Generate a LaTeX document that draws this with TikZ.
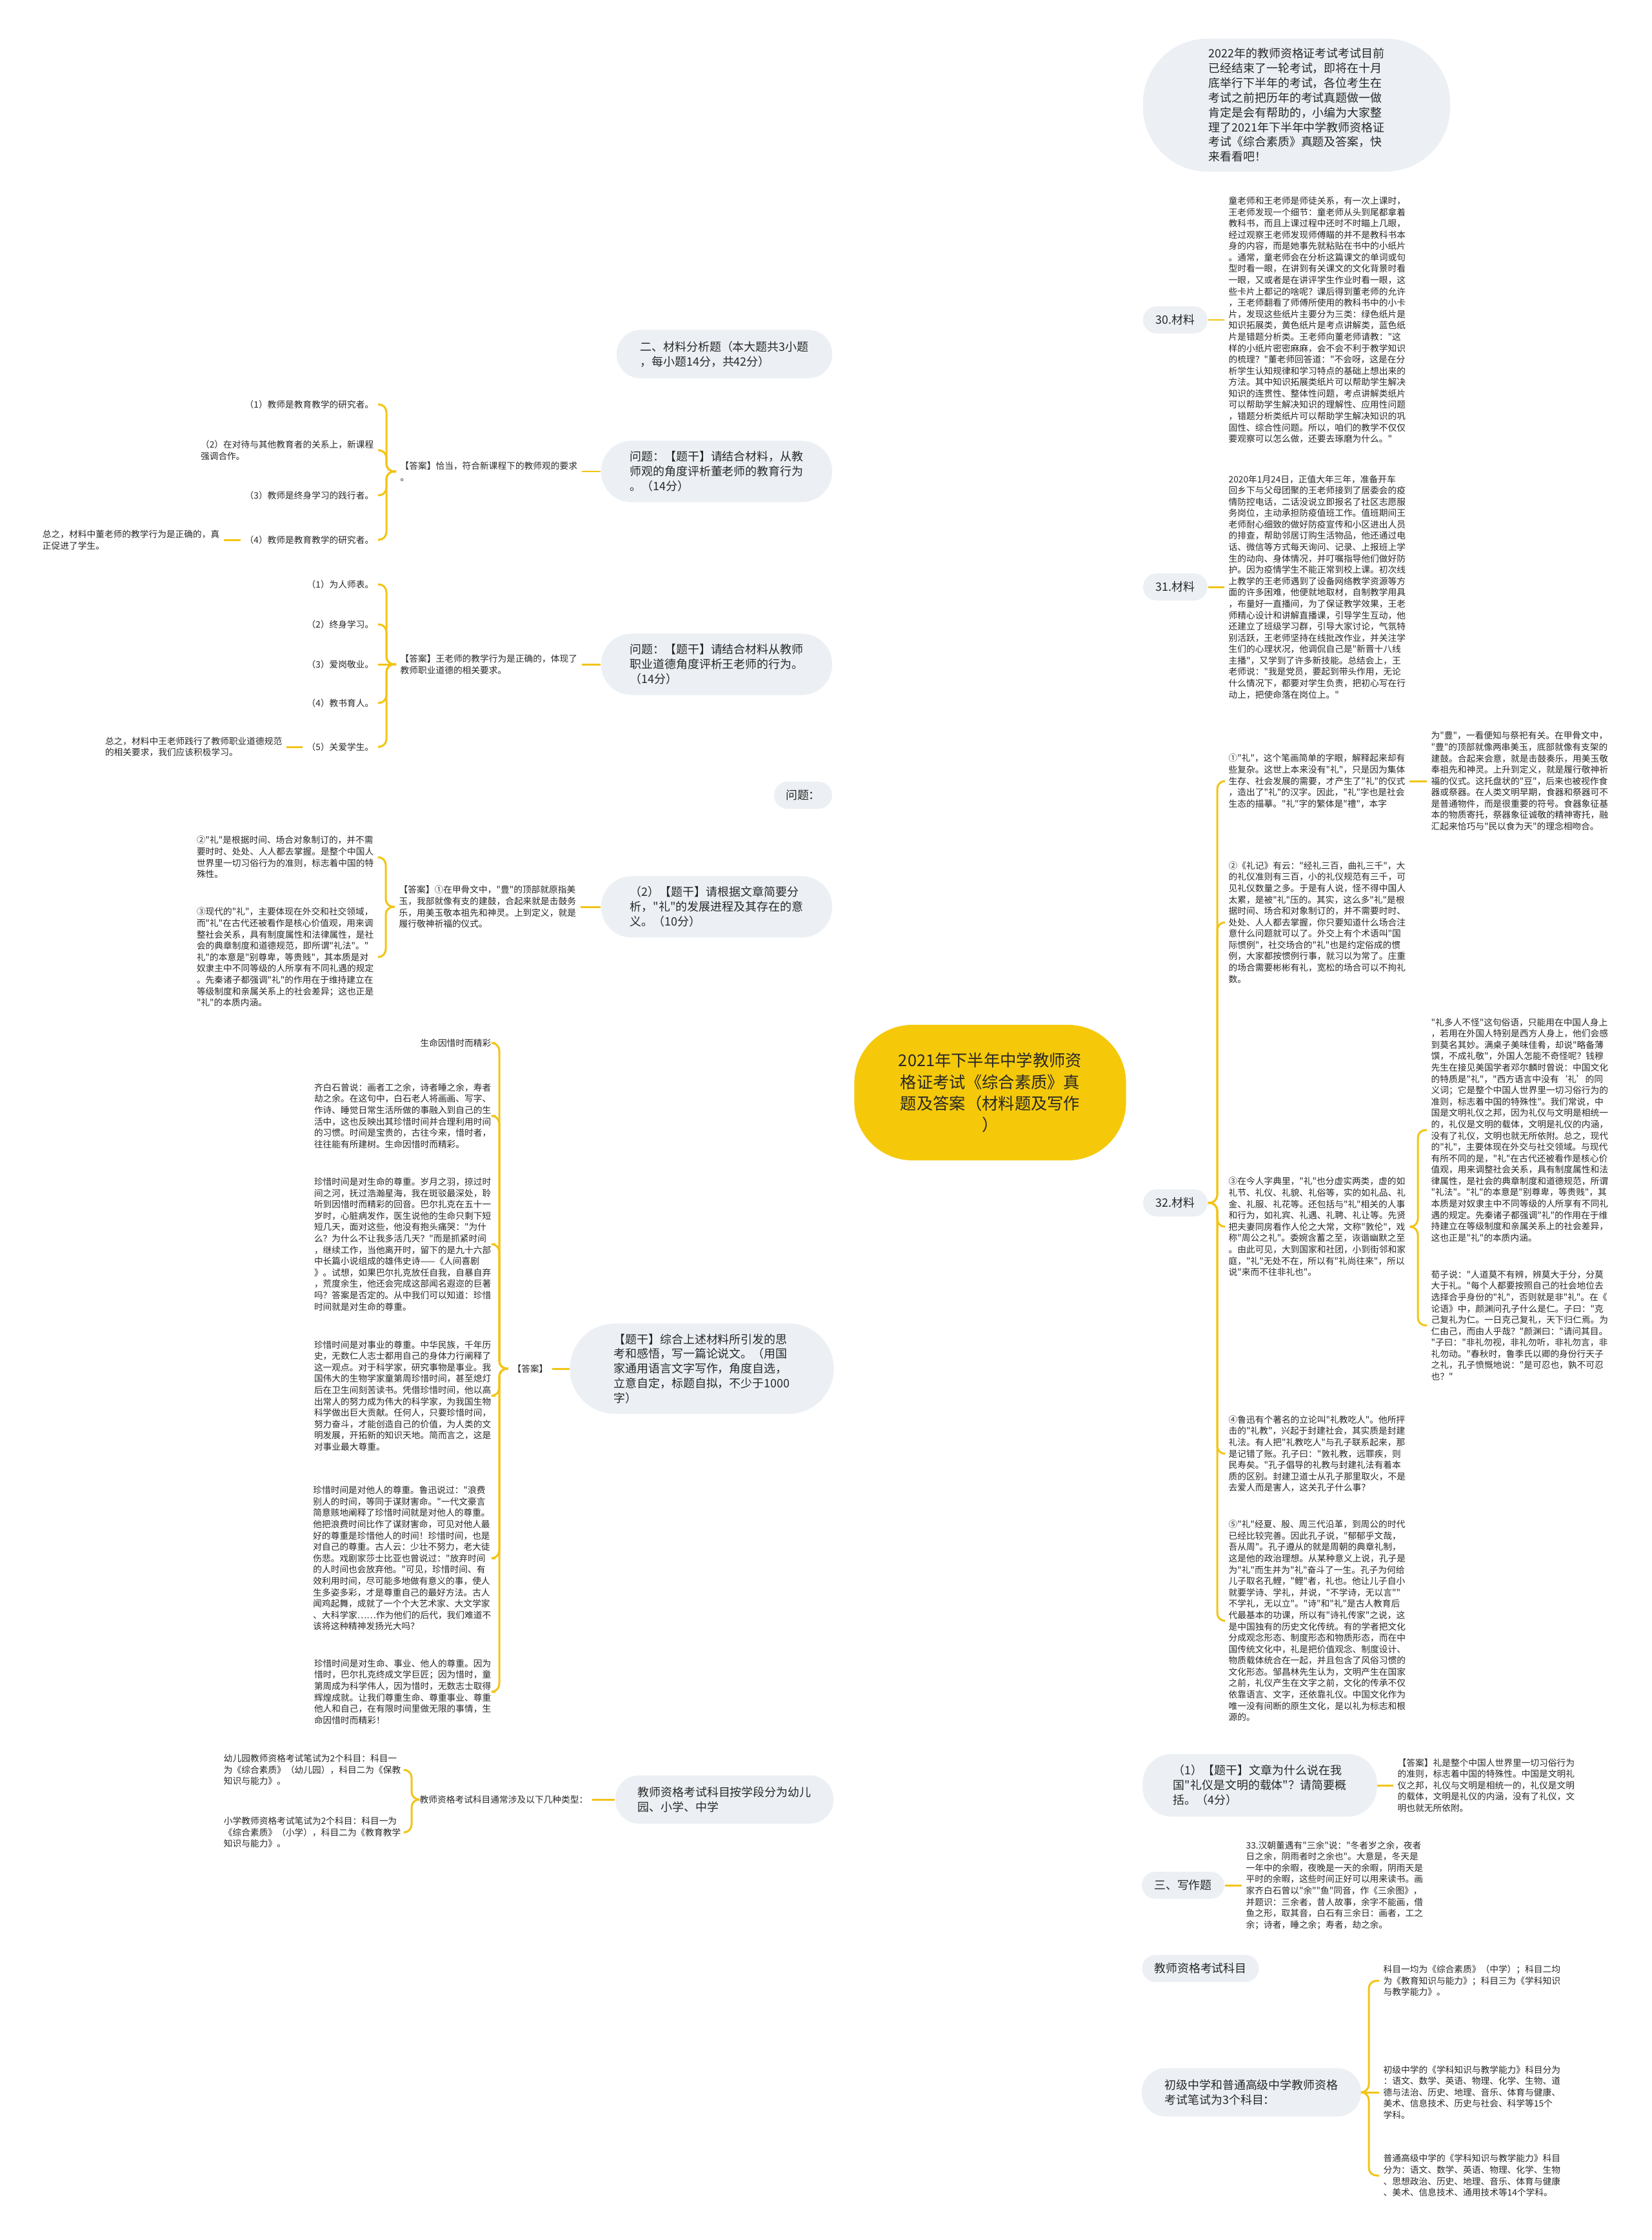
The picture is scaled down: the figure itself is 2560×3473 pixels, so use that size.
\documentclass[tikz,border=0pt]{standalone}
\usepackage{fontspec}
\setmainfont{Noto Sans CJK SC}[Ligatures=TeXOff]
\usetikzlibrary{backgrounds}
\definecolor{linegold}{RGB}{242,196,22}
\definecolor{hubgold}{RGB}{245,201,10}
\definecolor{topicgray}{RGB}{236,240,244}
\definecolor{ink}{RGB}{40,40,40}
\newcommand{\fshub}{\fontsize{7.2pt}{9.4pt}\selectfont}
\newcommand{\fstopic}{\fontsize{5.1pt}{6.5pt}\selectfont}
\newcommand{\fsleaf}{\fontsize{3.9pt}{5.0pt}\selectfont}

\begin{document}
\begin{tikzpicture}[x=0.01cm, y=-0.01cm]
\tikzstyle{hub} = [fill=hubgold, rounded corners=0.9cm, minimum width=4.21cm, minimum height=2.1cm, align=center, font=\fshub, text=ink]
\tikzstyle{topic} = [fill=topicgray, align=left, font=\fstopic, text=ink]
\tikzstyle{tag} = [topic, rounded corners=0.21cm, minimum height=0.42cm]
\tikzstyle{leaf} = [align=left, font=\fsleaf, text=ink, inner xsep=0.06cm, inner ysep=0.02cm]
\tikzstyle{trunk} = [draw=linegold, line width=1.3pt]
\tikzstyle{flow} = [draw=linegold, line width=0.85pt, rounded corners=0.12cm]

\useasboundingbox [fill=white] (0,0) rectangle (2560,3473);

% Centre
\node [hub] (main) at (1535,1694) {2021年下半年中学教师资\\格证考试《综合素质》真\\题及答案（材料题及写作\\）};
\coordinate (mainR) at (1580,1694);
\coordinate (mainL) at (1510,1694);

% Right side
\node [topic, rounded corners=1cm, minimum width=4.76cm, minimum height=2.06cm] (intro) at (2010,163) {2022年的教师资格证考试考试目前\\已经结束了一轮考试，即将在十月\\底举行下半年的考试，各位考生在\\考试之前把历年的考试真题做一做\\肯定是会有帮助的，小编为大家整\\理了2021年下半年中学教师资格证\\考试《综合素质》真题及答案，快\\来看看吧！};

\node [tag, minimum width=1cm] (lbl30) at (1822,496) {30.材料};
\node [leaf, anchor=west] (txt30) at (1898,496) {童老师和王老师是师徒关系，有一次上课时，\\王老师发现一个细节：童老师从头到尾都拿着\\教科书，而且上课过程中还时不时瞄上几眼，\\经过观察王老师发现师傅瞄的并不是教科书本\\身的内容，而是她事先就粘贴在书中的小纸片\\。通常，童老师会在分析这篇课文的单词或句\\型时看一眼，在讲到有关课文的文化背景时看\\一眼，又或者是在讲评学生作业时看一眼，这\\些卡片上都记的啥呢？课后得到董老师的允许\\，王老师翻看了师傅所使用的教科书中的小卡\\片，发现这些纸片主要分为三类：绿色纸片是\\知识拓展类，黄色纸片是考点讲解类，蓝色纸\\片是错题分析类。王老师向董老师请教："这\\样的小纸片密密麻麻，会不会不利于教学知识\\的梳理？"董老师回答道："不会呀，这是在分\\析学生认知规律和学习特点的基础上想出来的\\方法。其中知识拓展类纸片可以帮助学生解决\\知识的连贯性、整体性问题，考点讲解类纸片\\可以帮助学生解决知识的理解性、应用性问题\\，错题分析类纸片可以帮助学生解决知识的巩\\固性、综合性问题。所以，咱们的教学不仅仅\\要观察可以怎么做，还要去琢磨为什么。"};

\node [tag, minimum width=1cm] (lbl31) at (1822,910) {31.材料};
\node [leaf, anchor=west] (txt31) at (1898,910) {2020年1月24日，正值大年三年，准备开车\\回乡下与父母团聚的王老师接到了居委会的疫\\情防控电话，二话没说立即报名了社区志愿服\\务岗位，主动承担防疫值班工作。值班期间王\\老师耐心细致的做好防疫宣传和小区进出人员\\的排查，帮助邻居订购生活物品，他还通过电\\话、微信等方式每天询问、记录、上报班上学\\生的动向、身体情况，并叮嘱指导他们做好防\\护。因为疫情学生不能正常到校上课。初次线\\上教学的王老师遇到了设备网络教学资源等方\\面的许多困难，他便就地取材，自制教学用具\\，布量好一直播间，为了保证教学效果，王老\\师精心设计和讲解直播课，引导学生互动，他\\还建立了班级学习群，引导大家讨论，气氛特\\别活跃，王老师坚持在线批改作业，并关注学\\生们的心理状况，他调侃自己是"新晋十八线\\主播"，又学到了许多新技能。总结会上，王\\老师说："我是党员，要起到带头作用，无论\\什么情况下，都要对学生负责，把初心写在行\\动上，把使命落在岗位上。"};

\node [tag, minimum width=1cm] (lbl32) at (1822,1865) {32.材料};
\coordinate (j32) at (1887,1865);
\node [leaf, anchor=west] (r1) at (1898,1211) {①"礼"，这个笔画简单的字眼，解释起来却有\\些复杂。这世上本来没有"礼"，只是因为集体\\生存、社会发展的需要，才产生了"礼"的仪式\\，造出了"礼"的汉字。因此，"礼"字也是社会\\生态的描摹。"礼"字的繁体是"禮"，本字};
\node [leaf, anchor=west] (r1b) at (2212,1211) {为"豊"，一看便知与祭祀有关。在甲骨文中，\\"豊"的顶部就像两串美玉，底部就像有支架的\\建鼓。合起来会意，就是击鼓奏乐，用美玉敬\\奉祖先和神灵。上升到定义，就是履行敬神祈\\福的仪式。这托盘状的"豆"，后来也被视作食\\器或祭器。在人类文明早期，食器和祭器可不\\是普通物件，而是很重要的符号。食器象征基\\本的物质寄托，祭器象征诚敬的精神寄托，融\\汇起来恰巧与"民以食为天"的理念相吻合。};
\node [leaf, anchor=west] (r2) at (1898,1430) {②《礼记》有云："经礼三百，曲礼三千"，大\\的礼仪准则有三百，小的礼仪规范有三千，可\\见礼仪数量之多。于是有人说，怪不得中国人\\太累，是被"礼"压的。其实，这么多"礼"是根\\据时间、场合和对象制订的，并不需要时时、\\处处、人人都去掌握，你只要知道什么场合注\\意什么问题就可以了。外交上有个术语叫"国\\际惯例"，社交场合的"礼"也是约定俗成的惯\\例，大家都按惯例行事，就习以为常了。庄重\\的场合需要彬彬有礼，宽松的场合可以不拘礼\\数。};
\node [leaf, anchor=west] (r3) at (1898,1902) {③在今人字典里，"礼"也分虚实两类，虚的如\\礼节、礼仪、礼貌、礼俗等，实的如礼品、礼\\金、礼服、礼花等。还包括与"礼"相关的人事\\和行为，如礼宾、礼遇、礼聘、礼让等。先贤\\把夫妻同房看作人伦之大常，文称"敦伦"，戏\\称"周公之礼"。委婉含蓄之至，诙谐幽默之至\\。由此可见，大到国家和社团，小到街邻和家\\庭，"礼"无处不在，所以有"礼尚往来"，所以\\说"来而不往非礼也"。};
\coordinate (j3) at (2198,1902);
\node [leaf, anchor=west] (r3a) at (2212,1752) {"礼多人不怪"这句俗语，只能用在中国人身上\\，若用在外国人特别是西方人身上，他们会感\\到莫名其妙。满桌子美味佳肴，却说"略备薄\\馔，不成礼敬"，外国人怎能不奇怪呢？钱穆\\先生在接见美国学者邓尔麟时曾说：中国文化\\的特质是"礼"，"西方语言中没有‘礼’的同\\义词；它是整个中国人世界里一切习俗行为的\\准则，标志着中国的特殊性"。我们常说，中\\国是文明礼仪之邦，因为礼仪与文明是相统一\\的，礼仪是文明的载体，文明是礼仪的内涵，\\没有了礼仪，文明也就无所依附。总之，现代\\的"礼"，主要体现在外交与社交领域。与现代\\有所不同的是，"礼"在古代还被看作是核心价\\值观，用来调整社会关系，具有制度属性和法\\律属性，是社会的典章制度和道德规范，所谓\\"礼法"。"礼"的本意是"别尊卑，等贵贱"，其\\本质是对奴隶主中不同等级的人所享有不同礼\\遇的规定。先秦诸子都强调"礼"的作用在于维\\持建立在等级制度和亲属关系上的社会差异，\\这也正是"礼"的本质内涵。};
\node [leaf, anchor=west] (r3b) at (2212,2055) {荀子说："人道莫不有辨，辨莫大于分，分莫\\大于礼。"每个人都要按照自己的社会地位去\\选择合乎身份的"礼"，否则就是非"礼"。在《\\论语》中，颜渊问孔子什么是仁。子曰："克\\己复礼为仁。一日克己复礼，天下归仁焉。为\\仁由己，而由人乎哉？"颜渊曰："请问其目。\\"子曰："非礼勿视，非礼勿听，非礼勿言，非\\礼勿动。"春秋时，鲁季氏以卿的身份行天子\\之礼，孔子愤慨地说："是可忍也，孰不可忍\\也？"};
\node [leaf, anchor=west] (r4) at (1898,2254) {④鲁迅有个著名的立论叫"礼教吃人"。他所抨\\击的"礼教"，兴起于封建社会，其实质是封建\\礼法。有人把"礼教吃人"与孔子联系起来，那\\是记错了账。孔子曰："敦礼教，远罪疾，则\\民寿矣。"孔子倡导的礼教与封建礼法有着本\\质的区别。封建卫道士从孔子那里取火，不是\\去爱人而是害人，这关孔子什么事？};
\node [leaf, anchor=west] (r5) at (1898,2513) {⑤"礼"经夏、殷、周三代沿革，到周公的时代\\已经比较完善。因此孔子说，"郁郁乎文哉，\\吾从周"。孔子遵从的就是周朝的典章礼制，\\这是他的政治理想。从某种意义上说，孔子是\\为"礼"而生并为"礼"奋斗了一生。孔子为何给\\儿子取名孔鲤，"鲤"者，礼也。他让儿子自小\\就要学诗、学礼，并说，"不学诗，无以言""\\不学礼，无以立"。"诗"和"礼"是古人教育后\\代最基本的功课，所以有"诗礼传家"之说，这\\是中国独有的历史文化传统。有的学者把文化\\分成观念形态、制度形态和物质形态，而在中\\国传统文化中，礼是把价值观念、制度设计、\\物质载体统合在一起，并且包含了风俗习惯的\\文化形态。邹昌林先生认为，文明产生在国家\\之前，礼仪产生在文字之前，文化的传承不仅\\依靠语言、文字，还依靠礼仪。中国文化作为\\唯一没有间断的原生文化，是以礼为标志和根\\源的。};

\node [topic, rounded corners=0.45cm, minimum width=3.63cm, minimum height=0.97cm] (qa1) at (1953,2768) {（1）【题干】文章为什么说在我\\国"礼仪是文明的载体"？请简要概\\括。（4分）};
\node [leaf, anchor=west] (ans1) at (2160,2768) {【答案】礼是整个中国人世界里一切习俗行为\\的准则，标志着中国的特殊性。中国是文明礼\\仪之邦，礼仪与文明是相统一的，礼仪是文明\\的载体，文明是礼仪的内涵，没有了礼仪，文\\明也就无所依附。};

\node [tag, minimum width=1.28cm] (lbl33) at (1834,2923) {三、写作题};
\node [leaf, anchor=west] (txt33) at (1925,2923) {33.汉朝董遇有"三余"说："冬者岁之余，夜者\\日之余，阴雨者时之余也"。大意是，冬天是\\一年中的余暇，夜晚是一天的余暇，阴雨天是\\平时的余暇，这些时间正好可以用来读书。画\\家齐白石曾以"余""鱼"同音，作《三余图》，\\并题识：三余者，昔人故事，余字不能画，借\\鱼之形，取其音，白石有三余日：画者，工之\\余；诗者，睡之余；寿者，劫之余。};

\node [tag, minimum width=1.81cm] (subj) at (1861,3052) {教师资格考试科目};

\node [topic, rounded corners=0.37cm, minimum width=3.4cm, minimum height=0.75cm] (mid) at (1940,3244) {初级中学和普通高级中学教师资格\\考试笔试为3个科目：};
\coordinate (jm) at (2122,3244);
\node [leaf, anchor=west] (m1) at (2138,3071) {科目一均为《综合素质》（中学）；科目二均\\为《教育知识与能力》；科目三为《学科知识\\与教学能力》。};
\node [leaf, anchor=west] (m2) at (2138,3244) {初级中学的《学科知识与教学能力》科目分为\\：语文、数学、英语、物理、化学、生物、道\\德与法治、历史、地理、音乐、体育与健康、\\美术、信息技术、历史与社会、科学等15个\\学科。};
\node [leaf, anchor=west] (m3) at (2138,3373) {普通高级中学的《学科知识与教学能力》科目\\分为：语文、数学、英语、物理、化学、生物\\、思想政治、历史、地理、音乐、体育与健康\\、美术、信息技术、通用技术等14个学科。};

% Left side
\node [topic, rounded corners=0.37cm, minimum width=3.34cm, minimum height=0.75cm] (sec2) at (1123,549) {二、材料分析题（本大题共3小题\\，每小题14分，共42分）};

\node [topic, rounded corners=0.47cm, minimum width=3.58cm, minimum height=0.95cm] (q1) at (1111,731) {问题：【题干】请结合材料，从教\\师观的角度评析董老师的教育行为\\。（14分）};
\node [leaf, anchor=west] (a1) at (614,731) {【答案】恰当，符合新课程下的教师观的要求\\。};
\coordinate (ja1) at (599,731);
\node [leaf, anchor=east] (c11) at (586,627) {（1）教师是教育教学的研究者。};
\node [leaf, anchor=east] (c12) at (586,698) {（2）在对待与其他教育者的关系上，新课程\\强调合作。};
\node [leaf, anchor=east] (c13) at (586,768) {（3）教师是终身学习的践行者。};
\node [leaf, anchor=east] (c14) at (586,837) {（4）教师是教育教学的研究者。};
\node [leaf, anchor=east] (s1) at (347,837) {总之，材料中董老师的教学行为是正确的，真\\正促进了学生。};

\node [topic, rounded corners=0.47cm, minimum width=3.58cm, minimum height=0.95cm] (q2) at (1111,1030) {问题：【题干】请结合材料从教师\\职业道德角度评析王老师的行为。\\（14分）};
\node [leaf, anchor=west] (a2) at (614,1030) {【答案】王老师的教学行为是正确的，体现了\\教师职业道德的相关要求。};
\coordinate (ja2) at (599,1030);
\node [leaf, anchor=east] (c21) at (586,906) {（1）为人师表。};
\node [leaf, anchor=east] (c22) at (586,968) {（2）终身学习。};
\node [leaf, anchor=east] (c23) at (586,1030) {（3）爱岗敬业。};
\node [leaf, anchor=east] (c24) at (586,1090) {（4）教书育人。};
\node [leaf, anchor=east] (c25) at (586,1158) {（5）关爱学生。};
\node [leaf, anchor=east] (s2) at (444,1158) {总之，材料中王老师践行了教师职业道德规范\\的相关要求，我们应该积极学习。};

\node [tag, minimum width=0.9cm] (q3) at (1245,1233) {问题：};

\node [topic, rounded corners=0.47cm, minimum width=3.58cm, minimum height=0.95cm] (q4) at (1111,1406) {（2）【题干】请根据文章简要分\\析，"礼"的发展进程及其存在的意\\义。（10分）};
\node [leaf, anchor=west] (a4) at (612,1406) {【答案】①在甲骨文中，"豊"的顶部就原指美\\玉，我部就像有支的建鼓，合起来就是击鼓务\\乐，用美玉敬本祖先和神灵。上到定义，就是\\履行敬神祈福的仪式。};
\coordinate (ja4) at (598,1406);
\node [leaf, anchor=east] (c41) at (586,1329) {②"礼"是根据时间、场合对象制订的，并不需\\要时时、处处、人人都去掌握。是整个中国人\\世界里一切习俗行为的准则，标志着中国的特\\殊性。};
\node [leaf, anchor=east] (c42) at (586,1484) {③现代的"礼"，主要体现在外交和社交领域，\\而"礼"在古代还被看作是核心价值观，用来调\\整社会关系，具有制度属性和法律属性，是社\\会的典章制度和道德规范，即所谓"礼法"。"\\礼"的本意是"别尊卑，等贵贱"，其本质是对\\奴隶主中不同等级的人所享有不同礼遇的规定\\。先秦诸子都强调"礼"的作用在于维持建立在\\等级制度和亲属关系上的社会差异；这也正是\\"礼"的本质内涵。};

\node [topic, rounded corners=0.7cm, minimum width=4.09cm, minimum height=1.4cm] (write) at (1088,2122) {【题干】综合上述材料所引发的思\\考和感悟，写一篇论说文。（用国\\家通用语言文字写作，角度自选，\\立意自定，标题自拟，不少于1000\\字）};
\node [leaf] (ans5) at (822,2122) {【答案】};
\coordinate (j5) at (774,2122);
\node [leaf, anchor=east] (w0) at (768,1617) {生命因惜时而精彩};
\node [leaf, anchor=east] (w1) at (768,1730) {齐白石曾说：画者工之余，诗者睡之余，寿者\\劫之余。在这句中，白石老人将画画、写字、\\作诗、睡觉日常生活所做的事融入到自己的生\\活中，这也反映出其珍惜时间并合理利用时间\\的习惯。时间是宝贵的，古往今来，惜时者，\\往往能有所建树。生命因惜时而精彩。};
\node [leaf, anchor=east] (w2) at (768,1929) {珍惜时间是对生命的尊重。岁月之羽，掠过时\\间之河，抚过浩瀚星海，我在斑驳最深处，聆\\听到因惜时而精彩的回音。巴尔扎克在五十一\\岁时，心脏病发作，医生说他的生命只剩下短\\短几天，面对这些，他没有抱头痛哭："为什\\么？为什么不让我多活几天？"而是抓紧时间\\，继续工作，当他离开时，留下的是九十六部\\中长篇小说组成的雄伟史诗——《人间喜剧\\》。试想，如果巴尔扎克放任自我，自暴自弃\\，荒度余生，他还会完成这部闻名遐迩的巨著\\吗？答案是否定的。从中我们可以知道：珍惜\\时间就是对生命的尊重。};
\node [leaf, anchor=east] (w3) at (768,2164) {珍惜时间是对事业的尊重。中华民族，千年历\\史，无数仁人志士都用自己的身体力行阐释了\\这一观点。对于科学家，研究事物是事业。我\\国伟大的生物学家童第周珍惜时间，甚至熄灯\\后在卫生间刻苦读书。凭借珍惜时间，他以高\\出常人的努力成为伟大的科学家，为我国生物\\科学做出巨大贡献。任何人，只要珍惜时间，\\努力奋斗，才能创造自己的价值，为人类的文\\明发展，开拓新的知识天地。简而言之，这是\\对事业最大尊重。};
\node [leaf, anchor=east] (w4) at (768,2416) {珍惜时间是对他人的尊重。鲁迅说过："浪费\\别人的时间，等同于谋财害命。"一代文豪言\\简意赅地阐释了珍惜时间就是对他人的尊重。\\他把浪费时间比作了谋财害命，可见对他人最\\好的尊重是珍惜他人的时间！珍惜时间，也是\\对自己的尊重。古人云：少壮不努力，老大徒\\伤悲。戏剧家莎士比亚也曾说过："放弃时间\\的人时间也会放弃他。"可见，珍惜时间、有\\效利用时间，尽可能多地做有意义的事，使人\\生多姿多彩，才是尊重自己的最好方法。古人\\闻鸡起舞，成就了一个个大艺术家、大文学家\\、大科学家……作为他们的后代，我们难道不\\该将这种精神发扬光大吗？};
\node [leaf, anchor=east] (w5) at (768,2623) {珍惜时间是对生命、事业、他人的尊重。因为\\惜时，巴尔扎克终成文学巨匠；因为惜时，童\\第周成为科学伟人，因为惜时，无数志士取得\\辉煌成就。让我们尊重生命、尊重事业、尊重\\他人和自己，在有限时间里做无限的事情，生\\命因惜时而精彩！};

\node [topic, rounded corners=0.37cm, minimum width=3.38cm, minimum height=0.75cm] (stage) at (1123,2790) {教师资格考试科目按学段分为幼儿\\园、小学、中学};
\node [leaf, anchor=east] (slab) at (918,2790) {教师资格考试科目通常涉及以下几种类型：};
\coordinate (j6) at (638,2790);
\node [leaf, anchor=east] (k1) at (628,2744) {幼儿园教师资格考试笔试为2个科目：科目一\\为《综合素质》（幼儿园），科目二为《保教\\知识与能力》。};
\node [leaf, anchor=east] (k2) at (628,2841) {小学教师资格考试笔试为2个科目：科目一为\\《综合素质》（小学），科目二为《教育教学\\知识与能力》。};

% Connectors
\begin{scope}[on background layer]
\foreach \n in {intro,lbl30,lbl31,lbl32,qa1,lbl33,subj,mid}
  \draw [trunk] (mainR) .. controls (mainR |- \n.west) .. (\n.west);
\foreach \n in {sec2,q1,q2,q3,q4,write,stage}
  \draw [trunk] (mainL) .. controls (mainL |- \n.east) .. (\n.east);
\end{scope}

\draw [flow] (lbl30) -- (txt30);
\draw [flow] (lbl31) -- (txt31);
\foreach \n in {r1,r2,r3,r4,r5}
  \draw [flow] (lbl32.east) -- (j32) |- (\n.west);
\draw [flow] (r1) -- (r1b);
\foreach \n in {r3a,r3b}
  \draw [flow] (r3.east) -- (j3) |- (\n.west);
\draw [flow] (qa1) -- (ans1);
\draw [flow] (lbl33) -- (txt33);
\foreach \n in {m1,m3}
  \draw [flow] (mid.east) -- (jm) |- (\n.west);
\draw [flow] (mid) -- (m2);

\draw [flow] (q1) -- (a1);
\foreach \n in {c11,c12,c13,c14}
  \draw [flow] (a1.west) -- (ja1) |- (\n.east);
\draw [flow] (c14) -- (s1);
\draw [flow] (q2) -- (a2);
\foreach \n in {c21,c22,c24,c25}
  \draw [flow] (a2.west) -- (ja2) |- (\n.east);
\draw [flow] (a2) -- (c23);
\draw [flow] (c25) -- (s2);
\draw [flow] (q4) -- (a4);
\foreach \n in {c41,c42}
  \draw [flow] (a4.west) -- (ja4) |- (\n.east);
\draw [flow] (write) -- (ans5);
\foreach \n in {w0,w1,w2,w3,w4,w5}
  \draw [flow] (ans5.west) -- (j5) |- (\n.east);
\draw [flow] (stage) -- (slab);
\foreach \n in {k1,k2}
  \draw [flow] (slab.west) -- (j6) |- (\n.east);

\end{tikzpicture}
\end{document}
